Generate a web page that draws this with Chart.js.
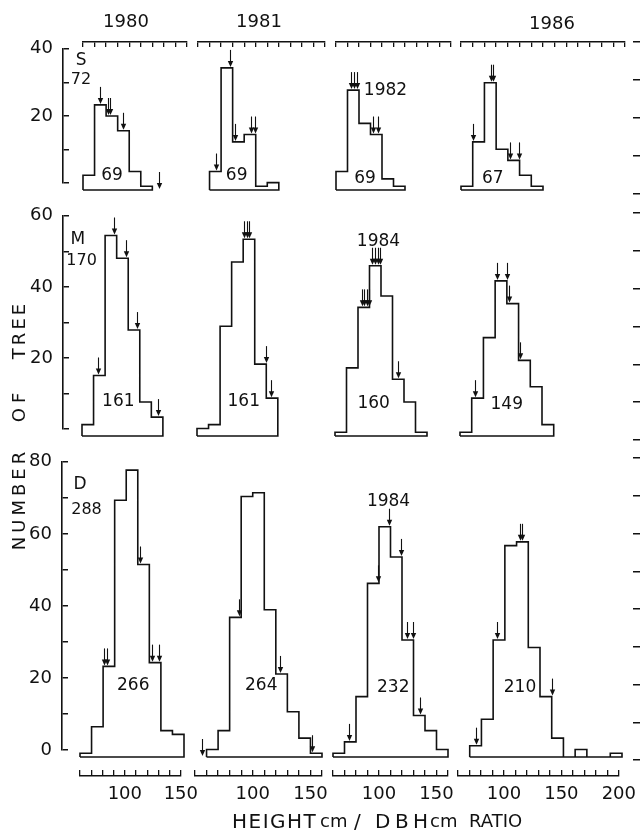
<!DOCTYPE html>
<html><head><meta charset="utf-8">
<script src="https://cdn.jsdelivr.net/npm/chart.js@4.4.0/dist/chart.umd.min.js"></script>
<style>
html,body{margin:0;padding:0;background:#fff;}
#fig{position:relative;width:640px;height:833px;overflow:hidden;background:#fff;}
#fig canvas{position:absolute;}
.lbl{position:absolute;font-family:"DejaVu Sans",sans-serif;font-size:18px;color:#111;white-space:pre;line-height:1;}
.ctr{transform:translate(-50%,-50%);}
.rot{transform:translate(-50%,-50%) rotate(-90deg);letter-spacing:4px;}
</style></head><body>
<div id="fig"></div>
<script>
// ================= DATA =================
const binWidth = 10;
const columnYears = ['1980', '1981', '', '1986'];
const rowNames = ['S', 'M', 'D'];
const rowTotals = ['72', '170', '288'];

// x-axis ranges of the four columns (HEIGHT/DBH ratio)
const colXMin = [60, 50, 60, 60];
const colXMax = [150, 160, 160, 200];
// y-axis maxima of the three rows (number of trees)
const rowYMax = [40, 60, 80];

// tick labels
const S_yTickLabels = [20, 40];
const M_yTickLabels = [20, 40, 60];
const D_yTickLabels = [0, 20, 40, 60, 80];
const xTickLabels = [100, 150, 200];

// first bin edge of each histogram
const S_starts = [60, 60, 60, 60];
const M_starts = [60, 50, 60, 60];
const D_starts = [60, 60, 60, 70];

// bin counts (10-unit bins)
const S_1980 = [4, 23, 20, 16, 5, 1];
const S_1981 = [5, 33, 13, 15, 1, 2];
const S_1982 = [5, 27, 18, 15, 3, 1];
const S_1986 = [1, 13, 29, 11, 8, 4, 1];
const M_1980 = [3, 16, 53, 47, 28, 9, 5];
const M_1981 = [2, 3, 29, 46, 52, 19, 10];
const M_1984 = [1, 18, 34, 45, 37, 15, 9, 1];
const M_1986 = [1, 10, 26, 41, 35, 20, 13, 3];
const D_1980 = [1, 8, 24, 68, 76, 51, 25, 7, 6];
const D_1981 = [2, 7, 37, 69, 70, 39, 22, 12, 5, 1];
const D_1984 = [1, 4, 16, 46, 61, 53, 31, 11, 7, 2];
const D_1986 = [3, 10, 31, 56, 57, 29, 16, 5, 0, 2, 0, 0, 1];

// sample totals written in each panel
const S_counts = ['69', '69', '69', '67'];
const M_counts = ['161', '161', '160', '149'];
const D_counts = ['266', '264', '232', '210'];

// arrows [ratio, count]
const S_1980_arrows = [[75, 23], [82, 20], [83.5, 20], [94.5, 16], [126, 0]];
const S_1981_arrows = [[66, 5], [77.5, 33], [82, 13], [95.5, 15], [99.5, 15]];
const S_1982_arrows = [[73, 27], [75.5, 27], [78, 27], [92.5, 15], [96.5, 15]];
const S_1986_arrows = [[70.5, 13], [85.5, 29], [87, 29], [101.5, 8], [109.5, 8]];
const M_1980_arrows = [[73.5, 16], [88, 53], [98, 47], [107.5, 28], [126, 5]];
const M_1981_arrows = [[91, 52], [93, 52], [95, 52], [109.5, 19], [114, 10]];
const M_1984_arrows = [[83.5, 34], [85.5, 34], [87.5, 34], [89.5, 34], [92, 45], [94.5, 45], [97, 45], [99.5, 45], [114.5, 15]];
const M_1986_arrows = [[73, 10], [92, 41], [100.5, 41], [102, 35], [111, 20]];
const D_1980_arrows = [[81, 24], [83.5, 24], [112, 51], [122, 25], [128.5, 25]];
const D_1981_arrows = [[56, 0], [88.5, 37], [123.5, 22], [151, 1]];
const D_1984_arrows = [[73.5, 4], [99.5, 46], [109, 61], [119, 53], [124.5, 31], [129.5, 31], [135.5, 11]];
const D_1986_arrows = [[75, 3], [93, 31], [112.5, 57], [115, 57], [140.5, 16]];

// ================= LAYOUT (pixels / styles) =================
const FAMILY = 'DejaVu Sans';
const INK = '#111';
const colLeft = [80, 195, 333, 458];
const colRight = [184, 322, 448, 622];
const rowShift = [3, 2, 0];
const rowTop = [42, 209, 455];
const rowBottom = [190, 436, 757];
const leftAxisX = [63, 63, 62];
const rightTickX = 633;
const rightTickTop = [42, 213, 458];
const rightTickBottom = [194, 440, 760];

// annotation anchors in data coordinates
const countPos = [
  [[85.1, 3.9], [83.5, 3.8], [85.2, 3], [87.2, 3]],
  [[91.4, 9.1], [90.5, 9], [93.6, 8.5], [99.9, 8.3]],
  [[106.1, 18.9], [107.4, 18.9], [112.4, 18.5], [112.9, 18.3]]
];
const rowNamePos = [[58.3, 34.9], [56.5, 51.9], [60, 72.2]];
const rowTotalPos = [[58.3, 29.7], [59.6, 46.4], [65.6, 65.6]];
const innerYears = [
  {r: 0, c: 2, t: '1982', x: 103, y: 27},
  {r: 1, c: 2, t: '1984', x: 97.8, y: 51.4},
  {r: 2, c: 2, t: '1984', x: 108.3, y: 67.7}
];

// ================= BUILD =================
const panelValues = [[S_1980, S_1981, S_1982, S_1986], [M_1980, M_1981, M_1984, M_1986], [D_1980, D_1981, D_1984, D_1986]];
const panelStarts = [S_starts, M_starts, D_starts];
const panelArrows = [[S_1980_arrows, S_1981_arrows, S_1982_arrows, S_1986_arrows],
                     [M_1980_arrows, M_1981_arrows, M_1984_arrows, M_1986_arrows],
                     [D_1980_arrows, D_1981_arrows, D_1984_arrows, D_1986_arrows]];
const panelCounts = [S_counts, M_counts, D_counts];
const rowTickLabels = [S_yTickLabels, M_yTickLabels, D_yTickLabels];

Chart.defaults.font.family = FAMILY;
Chart.defaults.color = INK;

const fig = document.getElementById('fig');
function makeCanvas(a, m) {
  const c = document.createElement('canvas');
  const w = Math.round(a.R - a.L + m.l + m.r), h = Math.round(a.B - a.T + m.t + m.b);
  c.width = w; c.height = h;
  c.style.left = Math.round(a.L - m.l) + 'px';
  c.style.top = Math.round(a.T - m.t) + 'px';
  c.style.width = w + 'px'; c.style.height = h + 'px';
  fig.appendChild(c);
  return c;
}
const baseOpts = () => ({
  responsive: false, animation: false, events: [], devicePixelRatio: 1,
  plugins: {legend: {display: false}, tooltip: {enabled: false}}
});

function annotPlugin(arrows, texts) {
  return {
    id: 'annot',
    afterDatasetsDraw(chart) {
      const {ctx} = chart; const xs = chart.scales.x, ys = chart.scales.y;
      ctx.save();
      ctx.strokeStyle = INK; ctx.fillStyle = INK; ctx.lineWidth = 1.1;
      arrows.forEach(([vx, vy]) => {
        const px = Math.round(xs.getPixelForValue(vx)) + 0.5, py = ys.getPixelForValue(vy) - 1;
        ctx.beginPath(); ctx.moveTo(px, py - 17); ctx.lineTo(px, py - 4); ctx.stroke();
        ctx.beginPath(); ctx.moveTo(px - 2.7, py - 6); ctx.lineTo(px + 2.7, py - 6); ctx.lineTo(px, py); ctx.closePath(); ctx.fill();
      });
      ctx.textAlign = 'center'; ctx.textBaseline = 'middle';
      texts.forEach(([t, vx, vy, size]) => {
        ctx.font = (size || 17) + 'px "' + FAMILY + '"';
        ctx.fillText(t, xs.getPixelForValue(vx), ys.getPixelForValue(vy));
      });
      ctx.restore();
    }
  };
}

function panel(r, c) {
  const a = {L: colLeft[c] + rowShift[r], R: colRight[c] + rowShift[r], T: rowTop[r], B: rowBottom[r]};
  const m = 45;
  const canvas = makeCanvas(a, {l: m, r: m, t: m, b: m});
  const vals = panelValues[r][c], start = panelStarts[r][c];
  const pts = [{x: start, y: 0}];
  vals.forEach((v, i) => { pts.push({x: start + i * binWidth, y: v}); pts.push({x: start + (i + 1) * binWidth, y: v}); });
  const end = start + vals.length * binWidth;
  pts.push({x: end, y: 0}); pts.push({x: start, y: 0});
  const texts = [[panelCounts[r][c], countPos[r][c][0], countPos[r][c][1], 17]];
  if (c === 0) {
    texts.push([rowNames[r], rowNamePos[r][0], rowNamePos[r][1], 17]);
    texts.push([rowTotals[r], rowTotalPos[r][0], rowTotalPos[r][1], 16]);
  }
  innerYears.filter(o => o.r === r && o.c === c).forEach(o => texts.push([o.t, o.x, o.y, 17]));
  const opts = baseOpts();
  opts.layout = {padding: m};
  opts.scales = {
    x: {type: 'linear', display: false, min: colXMin[c], max: colXMax[c]},
    y: {type: 'linear', display: false, min: 0, max: rowYMax[r]}
  };
  new Chart(canvas, {
    type: 'scatter',
    data: {datasets: [{data: pts, showLine: true, borderColor: INK, borderWidth: 1.6, pointRadius: 0, tension: 0, fill: false, clip: false}]},
    options: opts,
    plugins: [annotPlugin(panelArrows[r][c], texts)]
  });
}

function strip(a, m, pad, xOpts, yOpts) {
  const canvas = makeCanvas(a, m);
  const opts = baseOpts();
  opts.layout = {padding: pad};
  opts.scales = {x: xOpts, y: yOpts};
  new Chart(canvas, {type: 'scatter', data: {datasets: []}, options: opts});
}
const hidden = {type: 'linear', display: false, min: 0, max: 1};

// left y axes (ticks pointing inward)
for (let r = 0; r < 3; r++) {
  const ax = leftAxisX[r];
  strip({L: ax, R: ax + 6, T: rowTop[r], B: rowBottom[r]}, {l: 60, r: 4, t: 14, b: 14}, {left: 0, right: 4, top: 14, bottom: 14},
    hidden,
    {type: 'linear', position: 'left', min: 0, max: rowYMax[r],
     afterFit: s => { s.width = 60; },
     border: {display: true, color: INK, width: 1.6},
     grid: {drawOnChartArea: true, drawTicks: false, color: INK, lineWidth: 1.5},
     ticks: {stepSize: 10, padding: 10, autoSkip: false, color: INK, font: {family: FAMILY, size: 18},
             callback: v => rowTickLabels[r].includes(v) ? String(v) : ''}});
}
// right tick marks
for (let r = 0; r < 3; r++) {
  strip({L: rightTickX, R: rightTickX + 7, T: rightTickTop[r], B: rightTickBottom[r]}, {l: 2, r: 2, t: 4, b: 4}, {left: 2, right: 0, top: 4, bottom: 4},
    hidden,
    {type: 'linear', position: 'right', min: 0, max: rowYMax[r],
     afterFit: s => { s.width = 2; },
     border: {display: false},
     grid: {drawOnChartArea: true, drawTicks: false, color: INK, lineWidth: 1.5},
     ticks: {display: false, stepSize: 10, autoSkip: false}});
}
// top x axes of the first row (ticks pointing down)
for (let c = 0; c < 4; c++) {
  strip({L: colLeft[c] + rowShift[0], R: colRight[c] + rowShift[0], T: rowTop[0], B: rowTop[0] + 5}, {l: 4, r: 4, t: 2, b: 4}, {left: 4, right: 4, top: 0, bottom: 4},
    {type: 'linear', position: 'top', min: colXMin[c], max: colXMax[c],
     afterFit: s => { s.height = 2; },
     border: {display: true, color: INK, width: 1.5},
     grid: {drawOnChartArea: true, drawTicks: false, color: INK, lineWidth: 1.3},
     ticks: {display: false, stepSize: 10, autoSkip: false}},
    hidden);
}
// bottom x axes of the last row (ticks pointing up)
for (let c = 0; c < 4; c++) {
  strip({L: colLeft[c], R: colRight[c], T: 770, B: 776}, {l: 22, r: 22, t: 3, b: 30}, {left: 22, right: 22, top: 3, bottom: 0},
    {type: 'linear', position: 'bottom', min: colXMin[c], max: colXMax[c],
     afterFit: s => { s.height = 30; },
     border: {display: true, color: INK, width: 1.5},
     grid: {drawOnChartArea: true, drawTicks: false, color: INK, lineWidth: 1.3},
     ticks: {stepSize: 10, autoSkip: false, maxRotation: 0, minRotation: 0, padding: 8, color: INK,
             font: {family: FAMILY, size: 18},
             callback: v => xTickLabels.includes(v) ? String(v) : ''}},
    hidden);
}
// histogram panels
for (let r = 0; r < 3; r++) for (let c = 0; c < 4; c++) panel(r, c);

// global text
function addLabel(text, x, y, cls, extra) {
  const d = document.createElement('div');
  d.className = 'lbl ' + (cls || '');
  d.textContent = text;
  d.style.left = x + 'px'; d.style.top = y + 'px';
  if (extra) Object.assign(d.style, extra);
  fig.appendChild(d);
}
const headerPos = [[126, 21], [259, 21], null, [552, 23]];
columnYears.forEach((t, i) => { if (t) addLabel(t, headerPos[i][0], headerPos[i][1], 'ctr'); });
addLabel('NUMBER', 19, 499, 'rot', {letterSpacing: '4px'});
addLabel('OF', 19, 405, 'rot', {letterSpacing: '5px'});
addLabel('TREE', 19, 330, 'rot', {letterSpacing: '3px'});
const titleParts = [
  ['HEIGHT', 232, 20, '1.5px', 811], ['cm', 320, 18, '0px', 812], ['/', 354, 20, '0px', 811],
  ['D', 375, 20, '0px', 811], ['B', 395, 20, '0px', 811], ['H', 413, 20, '0px', 811],
  ['cm', 430, 18, '0px', 812], ['RATIO', 469, 18, '0px', 812]
];
titleParts.forEach(([t, x, fs, ls, y]) => addLabel(t, x, y, '', {letterSpacing: ls, fontSize: fs + 'px'}));
</script>
</body></html>
